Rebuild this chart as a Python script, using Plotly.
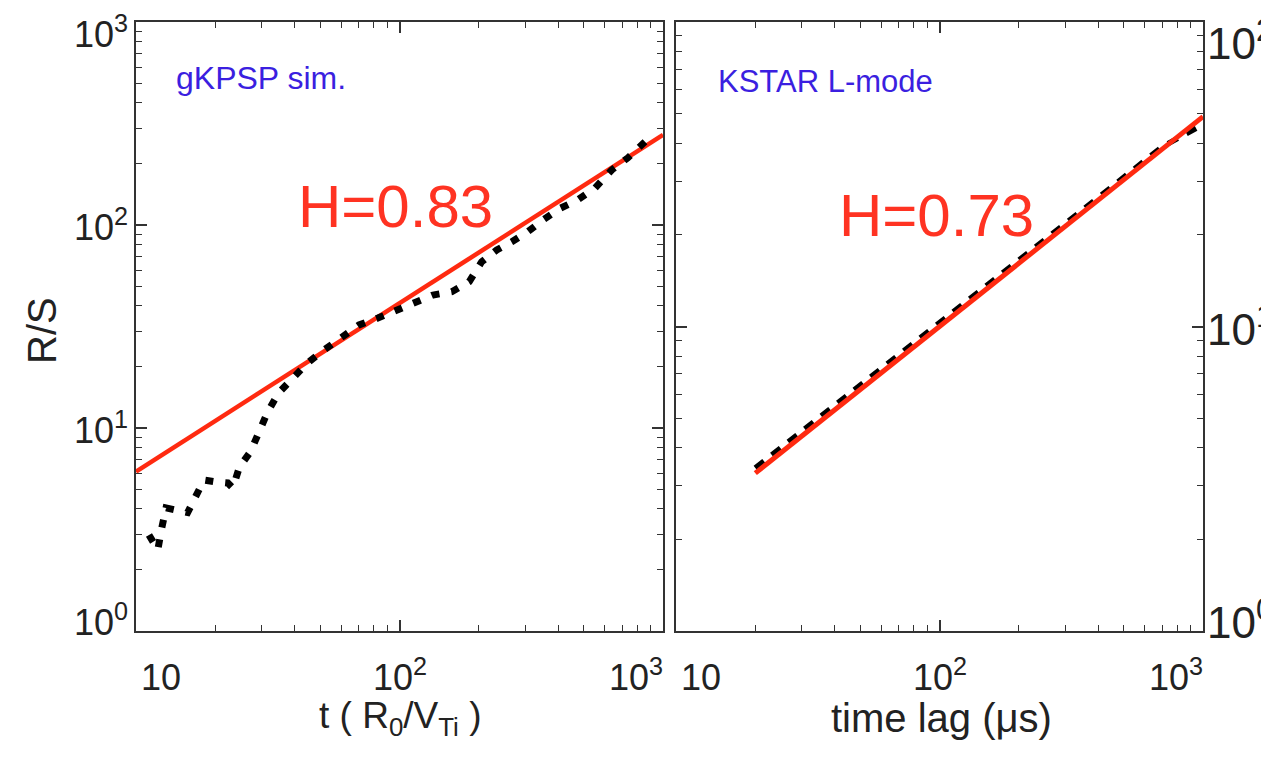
import plotly.graph_objects as go

# ---------------- data ----------------
# left panel: gKPSP simulation R/S vs t (R0/VTi)
t_sim = [11.2, 12.1, 12.5, 13.0, 15.7, 16.8, 18.1, 19.8, 22.3, 23.3, 24.7, 27.2,
         29.3, 31.6, 34.8, 39.1, 44.7, 51.2, 60.4, 70.2, 82.8, 97.7, 117, 134,
         158, 184, 205, 234, 267, 307, 351, 408, 475, 552, 640, 735, 816, 908]
rs_sim = [2.97, 2.51, 3.18, 4.04, 3.83, 4.59, 5.54, 5.44, 5.36, 5.06, 6.43, 7.64,
          9.59, 12.0, 14.9, 17.6, 20.9, 24.0, 28.2, 32.2, 34.8, 38.1, 42.7, 45.2,
          46.9, 52.6, 65.9, 75.3, 82.7, 92.7, 106, 121, 133, 152, 187, 214, 243, 277]
t_fit = [10, 1000]
rs_fit_sim = [6.1, 278]

# right panel: KSTAR L-mode R/S vs time lag (us)
lag = [20, 30, 50, 100, 200, 400, 700, 1000]
rs_kstar = [3.43, 4.52, 6.38, 10.2, 16.4, 26.5, 38.9, 46.1]
lag_fit = [20, 1000]
rs_fit_kstar = [3.30, 48.9]

# tick labels
x_tick_vals = [1, 2, 3]                      # log10 positions
x_tick_text = ["10", "10<sup>2</sup>", "10<sup>3</sup>"]
yl_tick_vals = [0, 1, 2, 3]
yl_tick_text = ["10<sup>0</sup>", "10<sup>1</sup>", "10<sup>2</sup>", "10<sup>3</sup>"]
yr_tick_vals = [0, 1, 2]
yr_tick_text = ["10<sup>0</sup>", "10<sup>1</sup>", "10<sup>2</sup>"]

# ---------------- style ----------------
W, H = 1261, 773
FONT = "Liberation Sans, Arial, Helvetica, sans-serif"
RED = "#ff2a10"
RED_TXT = "#ff3322"
BLUE = "#3b1fe0"
AX = "#333333"

fig = go.Figure()

fig.add_trace(go.Scatter(x=t_fit, y=rs_fit_sim, mode="lines",
                         line=dict(color=RED, width=4.5), xaxis="x", yaxis="y",
                         showlegend=False))
fig.add_trace(go.Scatter(x=t_sim, y=rs_sim, mode="lines",
                         line=dict(color="black", width=7, dash="8px,12px"),
                         xaxis="x", yaxis="y", showlegend=False))
fig.add_trace(go.Scatter(x=lag, y=rs_kstar, mode="lines",
                         line=dict(color="black", width=5.5, dash="11px,10px"),
                         xaxis="x2", yaxis="y2", showlegend=False))
fig.add_trace(go.Scatter(x=lag_fit, y=rs_fit_kstar, mode="lines",
                         line=dict(color=RED, width=5), xaxis="x2", yaxis="y2",
                         showlegend=False))

def px_x(p):
    return p / W

def px_y(p):
    return 1 - p / H

left_dom = [px_x(136), px_x(663)]
right_dom = [px_x(676), px_x(1203)]
y_dom = [px_y(631), px_y(22)]

minor = dict(ticks="inside", ticklen=6, tickwidth=1.3, tickcolor=AX, dtick="D1")
common_ax = dict(type="log", showgrid=False, zeroline=False, showline=True,
                 linecolor=AX, linewidth=2, mirror="ticks", ticks="inside",
                 ticklen=11, tickwidth=1.5, tickcolor=AX, showticklabels=False,
                 dtick=1, minor=minor)

fig.update_layout(
    width=W, height=H,
    margin=dict(l=0, r=0, t=0, b=0),
    paper_bgcolor="white", plot_bgcolor="white",
    font=dict(family=FONT, color="#222"),
    xaxis=dict(domain=left_dom, range=[1, 3], anchor="y", **common_ax),
    yaxis=dict(domain=y_dom, range=[0, 3], anchor="x", **common_ax),
    xaxis2=dict(domain=right_dom, range=[1, 3], anchor="y2", **common_ax),
    yaxis2=dict(domain=y_dom, range=[0, 2], anchor="x2", side="right", **common_ax),
)

ann = []
# x tick labels (ends nudged inward as in the original)
x_nudge = [25, 0, -27]
for xr, yr in (("x", "y"), ("x2", "y2")):
    for v, t, dx in zip(x_tick_vals, x_tick_text, x_nudge):
        ann.append(dict(text=t, x=v, xref=xr, y=px_y(700), yref="paper",
                        yanchor="bottom", xanchor="center", xshift=dx,
                        showarrow=False, font=dict(size=36, color="#222")))
# left y tick labels
yl_nudge = [11, 0, 0, -10]
for v, t, dy in zip(yl_tick_vals, yl_tick_text, yl_nudge):
    ann.append(dict(text=t, x=0, xref="x domain", y=v, yref="y", xanchor="right",
                    yanchor="middle", xshift=-6, yshift=dy, showarrow=False,
                    font=dict(size=36, color="#222")))
# right y tick labels
yr_nudge = [12, 0, -18]
for v, t, dy in zip(yr_tick_vals, yr_tick_text, yr_nudge):
    ann.append(dict(text=t, x=1, xref="x2 domain", y=v, yref="y2", xanchor="left",
                    yanchor="middle", xshift=2, yshift=dy, showarrow=False,
                    font=dict(size=44, color="#222")))

# axis titles
ann.append(dict(text="R/S", x=px_x(42), y=px_y(331), xref="paper", yref="paper",
                xanchor="center", yanchor="middle",
                textangle=-90, showarrow=False, font=dict(size=40, color="#222")))
ann.append(dict(text="t ( R<sub>0</sub>/V<sub>Ti</sub> )", x=px_x(400), y=px_y(718),
                xref="paper", yref="paper", xanchor="center", yanchor="middle",
                showarrow=False, font=dict(size=37, color="#222")))
ann.append(dict(text="time lag (\u03bcs)", x=px_x(941), y=px_y(718),
                xref="paper", yref="paper", xanchor="center", yanchor="middle",
                showarrow=False, font=dict(size=40, color="#222")))

# panel labels
ann.append(dict(text="gKPSP sim.", x=px_x(174), y=px_y(78), xref="paper", yref="paper",
                xanchor="left", yanchor="middle", showarrow=False,
                font=dict(size=32, color=BLUE)))
ann.append(dict(text="KSTAR L-mode", x=px_x(716), y=px_y(82), xref="paper", yref="paper",
                xanchor="left", yanchor="middle", showarrow=False,
                font=dict(size=31, color=BLUE)))
ann.append(dict(text="H=0.83", x=px_x(296), y=px_y(206), xref="paper", yref="paper",
                xanchor="left", yanchor="middle", showarrow=False,
                font=dict(size=60, color=RED_TXT)))
ann.append(dict(text="H=0.73", x=px_x(837), y=px_y(216), xref="paper", yref="paper",
                xanchor="left", yanchor="middle", showarrow=False,
                font=dict(size=60, color=RED_TXT)))

fig.update_layout(annotations=ann)
fig.write_html("out.html")
